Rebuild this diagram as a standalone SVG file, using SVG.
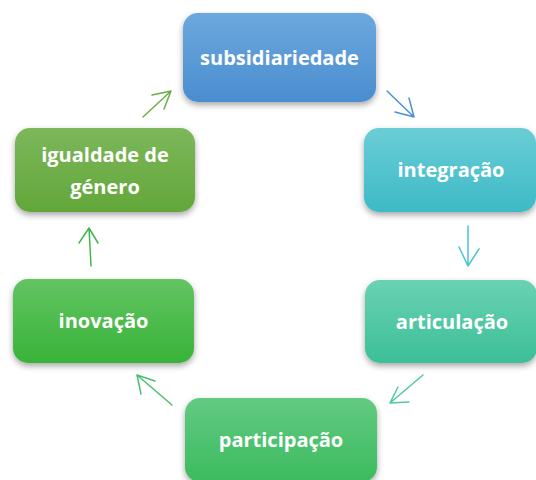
<svg xmlns="http://www.w3.org/2000/svg" width="536" height="480" viewBox="0 0 536 480">
<defs>
<filter id="sh" x="-20%" y="-20%" width="140%" height="150%">
<feDropShadow dx="0" dy="3" stdDeviation="3" flood-color="#000" flood-opacity="0.35"/>
</filter>
<linearGradient id="g1" x1="0" y1="0" x2="0" y2="1"><stop offset="0" stop-color="#6ca8dd"/><stop offset="1" stop-color="#4a8dd0"/></linearGradient>
<linearGradient id="g2" x1="0" y1="0" x2="0" y2="1"><stop offset="0" stop-color="#6acdd6"/><stop offset="1" stop-color="#3dbac6"/></linearGradient>
<linearGradient id="g3" x1="0" y1="0" x2="0" y2="1"><stop offset="0" stop-color="#6ad2b2"/><stop offset="1" stop-color="#3cbf98"/></linearGradient>
<linearGradient id="g4" x1="0" y1="0" x2="0" y2="1"><stop offset="0" stop-color="#62ca82"/><stop offset="1" stop-color="#3bbb5e"/></linearGradient>
<linearGradient id="g5" x1="0" y1="0" x2="0" y2="1"><stop offset="0" stop-color="#62c462"/><stop offset="1" stop-color="#38b338"/></linearGradient>
<linearGradient id="g6" x1="0" y1="0" x2="0" y2="1"><stop offset="0" stop-color="#7cb75a"/><stop offset="1" stop-color="#62a73a"/></linearGradient>
</defs>
<style>
.box{filter:url(#sh)}
.t{font-family:"Open Sans","Noto Sans",sans-serif;font-weight:bold;font-size:20px;fill:#fff;text-anchor:middle}
.c{fill:none;stroke-width:1.5;stroke-linecap:round;stroke-linejoin:round}
</style>
<g id="connectors">
<path class="c" stroke="#4a90d9" d="M387 91 L414 117 M409 98 L414 117 L395 112"/>
<path class="c" stroke="#4cc4d0" d="M468 226 L468 266 M459 247 L468 266 L479 249"/>
<path class="c" stroke="#4ccaa0" d="M423 375 L390 403 M398 387 L390 403 L409 402"/>
<path class="c" stroke="#48c070" d="M172 405 L137 375 M155 381 L137 375 L141 394"/>
<path class="c" stroke="#40b848" d="M91 266 L89 228 M79 243 L89 228 L98 243"/>
<path class="c" stroke="#6aaf45" d="M143 117 L171 91 M152 95 L171 91 L164 109"/>
</g>
<g id="subsidiariedade">
<rect class="box" x="183" y="13" width="193" height="89" rx="15" fill="url(#g1)"/>
<text class="t" x="279.5" y="64.5">subsidiariedade</text>
</g>
<g id="integracao">
<rect class="box" x="364" y="128" width="172" height="84" rx="15" fill="url(#g2)"/>
<text class="t" x="451" y="177">integração</text>
</g>
<g id="articulacao">
<rect class="box" x="365" y="280" width="172" height="83" rx="15" fill="url(#g3)"/>
<text class="t" x="452" y="329">articulação</text>
</g>
<g id="participacao">
<rect class="box" x="185" y="398" width="192" height="84" rx="15" fill="url(#g4)"/>
<text class="t" x="281" y="447">participação</text>
</g>
<g id="inovacao">
<rect class="box" x="13" y="279" width="181" height="84" rx="15" fill="url(#g5)"/>
<text class="t" x="103.5" y="328">inovação</text>
</g>
<g id="igualdade">
<rect class="box" x="15" y="128" width="180" height="84" rx="15" fill="url(#g6)"/>
<text class="t" x="105" y="162">igualdade de</text>
<text class="t" x="105" y="194">género</text>
</g>
</svg>
